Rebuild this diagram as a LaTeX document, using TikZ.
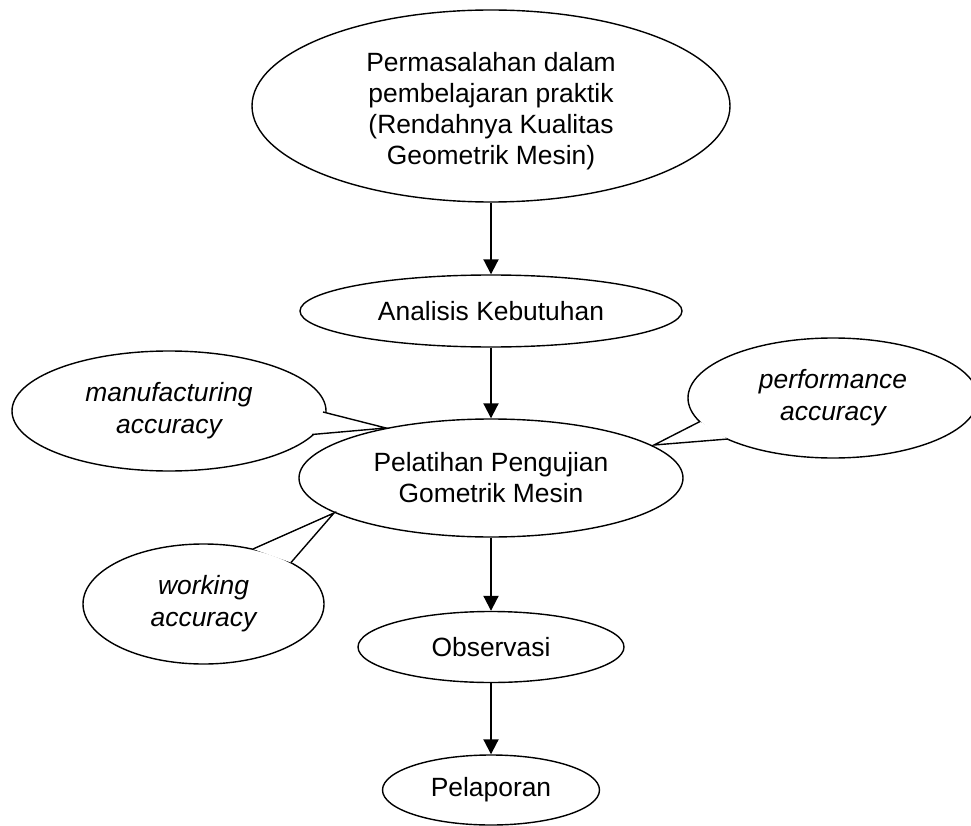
\documentclass[tikz,border=0pt]{standalone}
\usepackage{fontspec}
\setmainfont{Liberation Sans}
\usetikzlibrary{shapes.geometric,arrows.meta}
\begin{document}
\begin{tikzpicture}[x=1pt,y=-1pt,
  box/.style={ellipse,draw,line width=1.4pt,inner sep=0pt,align=center,
    font=\fontsize{26.4}{31}\selectfont},
  bubble/.style={box,font=\fontsize{26.4}{32}\selectfont\itshape},
  wedge/.style={draw,fill=white,line width=1.4pt,line join=miter},
  flow/.style={line width=2pt,-{Triangle[width=15pt,length=15pt]}}]
\useasboundingbox (0,0) rectangle (971,826);
% callout bubbles
\node[bubble,minimum width=314pt,minimum height=120pt] (manu) at (169,411) {manufacturing\\accuracy};
\node[bubble,minimum width=290pt,minimum height=120pt] (perf) at (833,398) {performance\\accuracy};
\node[bubble,minimum width=241pt,minimum height=120pt] (work) at (203.5,604) {working\\accuracy};
\coordinate (m1) at (323,412);
\coordinate (mt) at (386,428);
\coordinate (m2) at (312,434.5);
\coordinate (p1) at (700,421.5);
\coordinate (pt) at (654,445);
\coordinate (p2) at (728,439);
\coordinate (w1) at (253,549);
\coordinate (wt) at (334,513);
\coordinate (w2) at (291,562.5);
\path[wedge] (m1) -- (mt) -- (m2);
\path[wedge] (p1) -- (pt) -- (p2);
\path[wedge] (w1) -- (wt) -- (w2);
% main flow
\node[box,minimum width=478pt,minimum height=192pt] (prob) at (491,106)
  {\rule{0pt}{29pt}Permasalahan dalam\\pembelajaran praktik\\(Rendahnya Kualitas\\Geometrik Mesin)};
\node[box,minimum width=382pt,minimum height=72pt] (anal) at (491,311) {Analisis Kebutuhan};
\node[box,minimum width=384pt,minimum height=118pt] (pel) at (491,478) {Pelatihan Pengujian\\Gometrik Mesin};
\node[box,minimum width=266pt,minimum height=71pt] (obs) at (491,647) {Observasi};
\node[box,minimum width=217pt,minimum height=70pt] (lap) at (491,790) {Pelaporan};
\draw[flow] (prob.south) -- (anal.north);
\draw[flow] (anal.south) -- (pel.north);
\draw[flow] (pel.south) -- (obs.north);
\draw[flow] (obs.south) -- (lap.north);
\end{tikzpicture}
\end{document}
